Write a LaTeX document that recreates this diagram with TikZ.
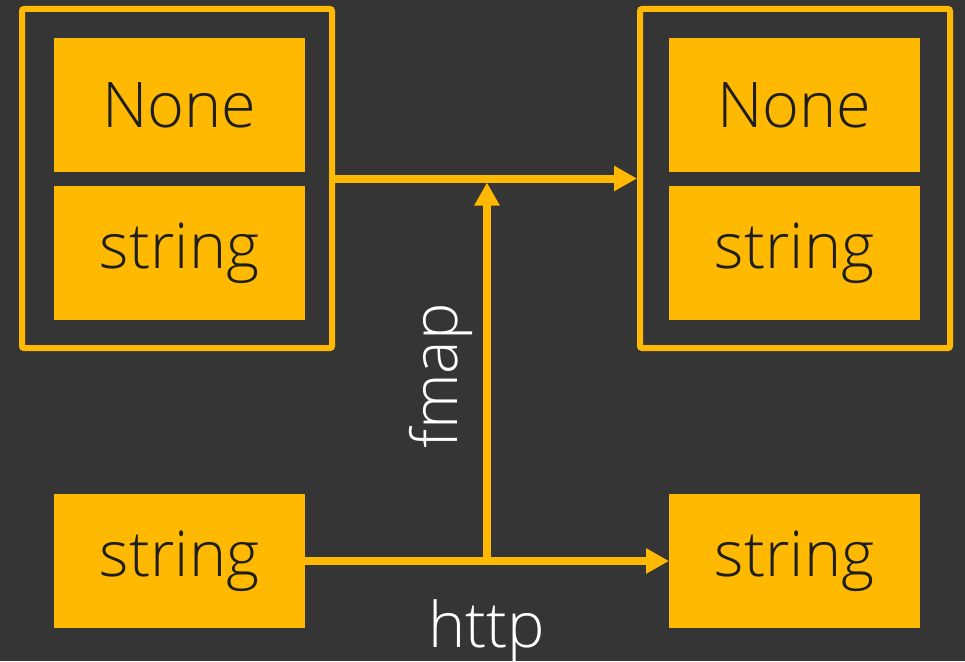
\documentclass[tikz,border=0pt]{standalone}
\usepackage{fontspec}
\IfFontExistsTF{Open Sans Light}{\setmainfont{Open Sans Light}}{\setmainfont{Open Sans}}
\usetikzlibrary{arrows.meta,calc}

\definecolor{bgdark}{HTML}{353535}
\definecolor{amber}{HTML}{FFB900}
\definecolor{ink}{HTML}{1E1E1E}

\tikzset{
  cell/.style={fill=amber, text=ink, minimum width=251pt, minimum height=134pt,
               inner sep=0pt, outer sep=0pt, font=\fontsize{63}{70}\selectfont},
  frame/.style={draw=amber, line width=6pt, rounded corners=2pt,
                minimum width=310pt, minimum height=339pt, inner sep=0pt},
  link/.style={draw=amber, line width=8pt,
               -{Triangle[length=23pt,width=24pt]}},
  caption/.style={text=white, inner sep=0pt, font=\fontsize{63}{70}\selectfont}
}

\begin{document}
\begin{tikzpicture}[x=1pt,y=-1pt]
  % canvas
  \fill[bgdark] (0,0) rectangle (965,661);
  \useasboundingbox (0,0) rectangle (965,661);

  % left container: Maybe<string>
  \node[frame] (lf) at (177,178.5) {};
  \node[cell] (ln) at (179.5,105) {None};
  \node[cell] (ls) at (179.5,253) {string};

  % right container
  \node[frame] (rf) at (795,178.5) {};
  \node[cell] (rn) at (794.5,105) {None};
  \node[cell] (rs) at (794.5,253) {string};

  % plain values
  \node[cell] (bl) at (179.5,561) {string};
  \node[cell] (br) at (794.5,561) {string};

  % junction points
  \coordinate (top) at ($(lf.east)!0.5!(rf.west)$);
  \coordinate (bot) at ($(bl.east)!0.5!(br.west)$);

  % arrows
  \draw[link] (lf.east) -- (rf.west);
  \draw[link] (bl.east) -- (br.west);
  \draw[link] (bot) -- ($(bot |- top)+(0,4)$);

  % labels
  \node[caption, rotate=90, anchor=base] (fmap) at (457,376) {fmap};
  \node[caption, anchor=base] (http) at (487,647) {http};
\end{tikzpicture}
\end{document}
